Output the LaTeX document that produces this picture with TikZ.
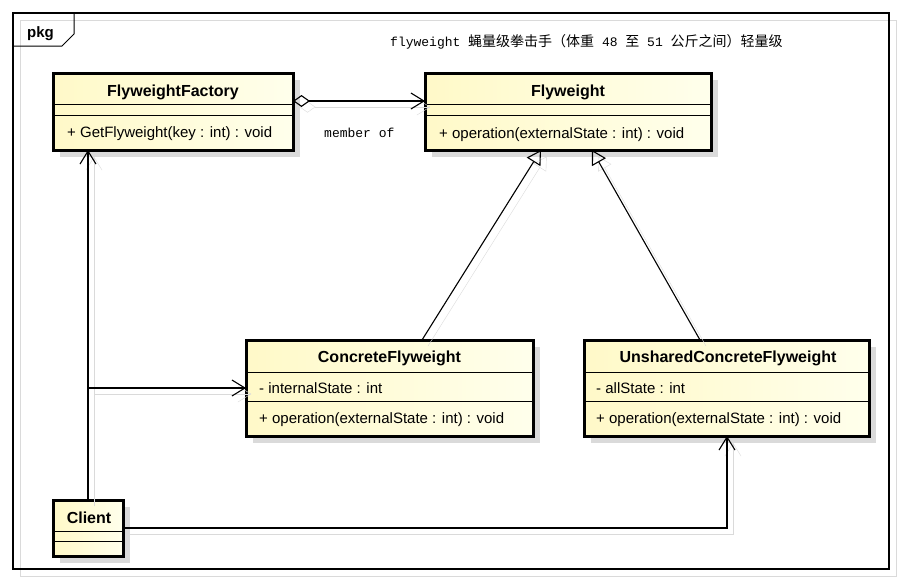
\documentclass[tikz,border=0pt]{standalone}
\usepackage{fontspec}
\setmainfont{Liberation Sans}
\setmonofont{Liberation Mono}
\newfontfamily\cjkfont{Noto Sans CJK SC}
\usetikzlibrary{arrows.meta,shadows}

\definecolor{classtop}{RGB}{255,249,200}
\definecolor{classbot}{RGB}{255,255,236}
\definecolor{shadegray}{RGB}{218,218,218}

\tikzset{
  classbox/.style={draw, line width=3pt, inner sep=0pt, outer sep=0pt,
    left color=classtop, right color=classbot,
    drop shadow={shadow xshift=7pt, shadow yshift=-7pt, fill=shadegray, opacity=1}},
  divider/.style={line width=0.9pt},
  classname/.style={font=\fontsize{16}{19}\selectfont\bfseries, anchor=base, inner sep=0pt},
  member/.style={font=\fontsize{15}{18}\selectfont, anchor=base west, inner sep=0pt},
  monotext/.style={font=\fontsize{13}{16}\selectfont\ttfamily, anchor=base west, inner sep=0pt},
  link/.style={line width=1.1pt, preaction={draw=shadegray, transform canvas={shift={(6pt,-6pt)}}}},
  assoc/.style={link, -{Straight Barb[length=13pt,width=16pt]}},
  generalize/.style={link, -{Triangle[open,length=14pt,width=16pt]}},
  aggregate/.style={link, {Diamond[open,length=17pt,width=12pt]}-{Straight Barb[length=13pt,width=16pt]}},
}

\begin{document}
\begin{tikzpicture}[x=1pt, y=-1pt]
        \useasboundingbox (0,0) rectangle (902,582);
        % Package frame
        \draw [shadegray, line width=1pt] (20,20) rectangle (896,576);
        \draw [line width=1.3pt] (13,13) rectangle (889,569);
        \draw [line width=1pt] (13,46) -- (62,46) -- (74,34) -- (74,13);
        \node [font=\fontsize{15}{18}\selectfont\bfseries, anchor=base west, inner sep=0pt] (pkg) at (27,37) {pkg};
        \node [monotext] (note) at (390,46) {flyweight {\cjkfont\fontsize{14}{16}\selectfont 蝇量级拳击手（体重} 48 {\cjkfont\fontsize{14}{16}\selectfont 至} 51 {\cjkfont\fontsize{14}{16}\selectfont 公斤之间）轻量级}};

        % Classes
        \node [classbox, minimum width=240pt, minimum height=77pt] (factory) at (173,111.5) {};
        \node [classbox, minimum width=286pt, minimum height=77pt] (flyweight) at (568,111.5) {};
        \node [classbox, minimum width=287pt, minimum height=96pt] (concrete) at (389.5,388) {};
        \node [classbox, minimum width=285pt, minimum height=96pt] (unshared) at (726.5,388) {};
        \node [classbox, minimum width=70pt, minimum height=56pt] (client) at (88,528) {};
        \foreach \cls/\first/\second in {factory/31/42, flyweight/31/42, concrete/32/61, unshared/32/61, client/31/41}
                \draw [divider] ([yshift=-\first pt]\cls.north west) -- ([yshift=-\first pt]\cls.north east)
                        ([yshift=-\second pt]\cls.north west) -- ([yshift=-\second pt]\cls.north east);

        \node [classname] (factory-name) at (173,96.5) {FlyweightFactory};
        \node [member] (factory-op) at (67,137) {+ GetFlyweight(key : int) : void};
        \node [classname] (flyweight-name) at (568,96) {Flyweight};
        \node [member] (flyweight-op) at (439,138) {+ operation(externalState : int) : void};
        \node [classname] (concrete-name) at (389.5,362) {ConcreteFlyweight};
        \node [member] (concrete-attr) at (259,393) {- internalState : int};
        \node [member] (concrete-op) at (259,423) {+ operation(externalState : int) : void};
        \node [classname] (unshared-name) at (728,362) {UnsharedConcreteFlyweight};
        \node [member] (unshared-attr) at (596,393) {- allState : int};
        \node [member] (unshared-op) at (596,423) {+ operation(externalState : int) : void};
        \node [classname] (client-name) at (89,523) {Client};

        % Relations
        \draw [aggregate] ([yshift=-28pt]factory.north east) -- ([yshift=-28pt]flyweight.north west);
        \node [monotext] (member-of) at (324,137) {member of};
        \draw [generalize] ([xshift=176pt]concrete.north west) -- ([xshift=116pt]flyweight.south west);
        \draw [generalize] ([xshift=116pt]unshared.north west) -- ([xshift=167pt]flyweight.south west);
        \draw [assoc] (client.north) -- (client.north |- factory.south);
        \draw [assoc] (client.north) |- (concrete.west);
        \draw [assoc] (client.east) -| ([xshift=143pt]unshared.south west);
\end{tikzpicture}
\end{document}
